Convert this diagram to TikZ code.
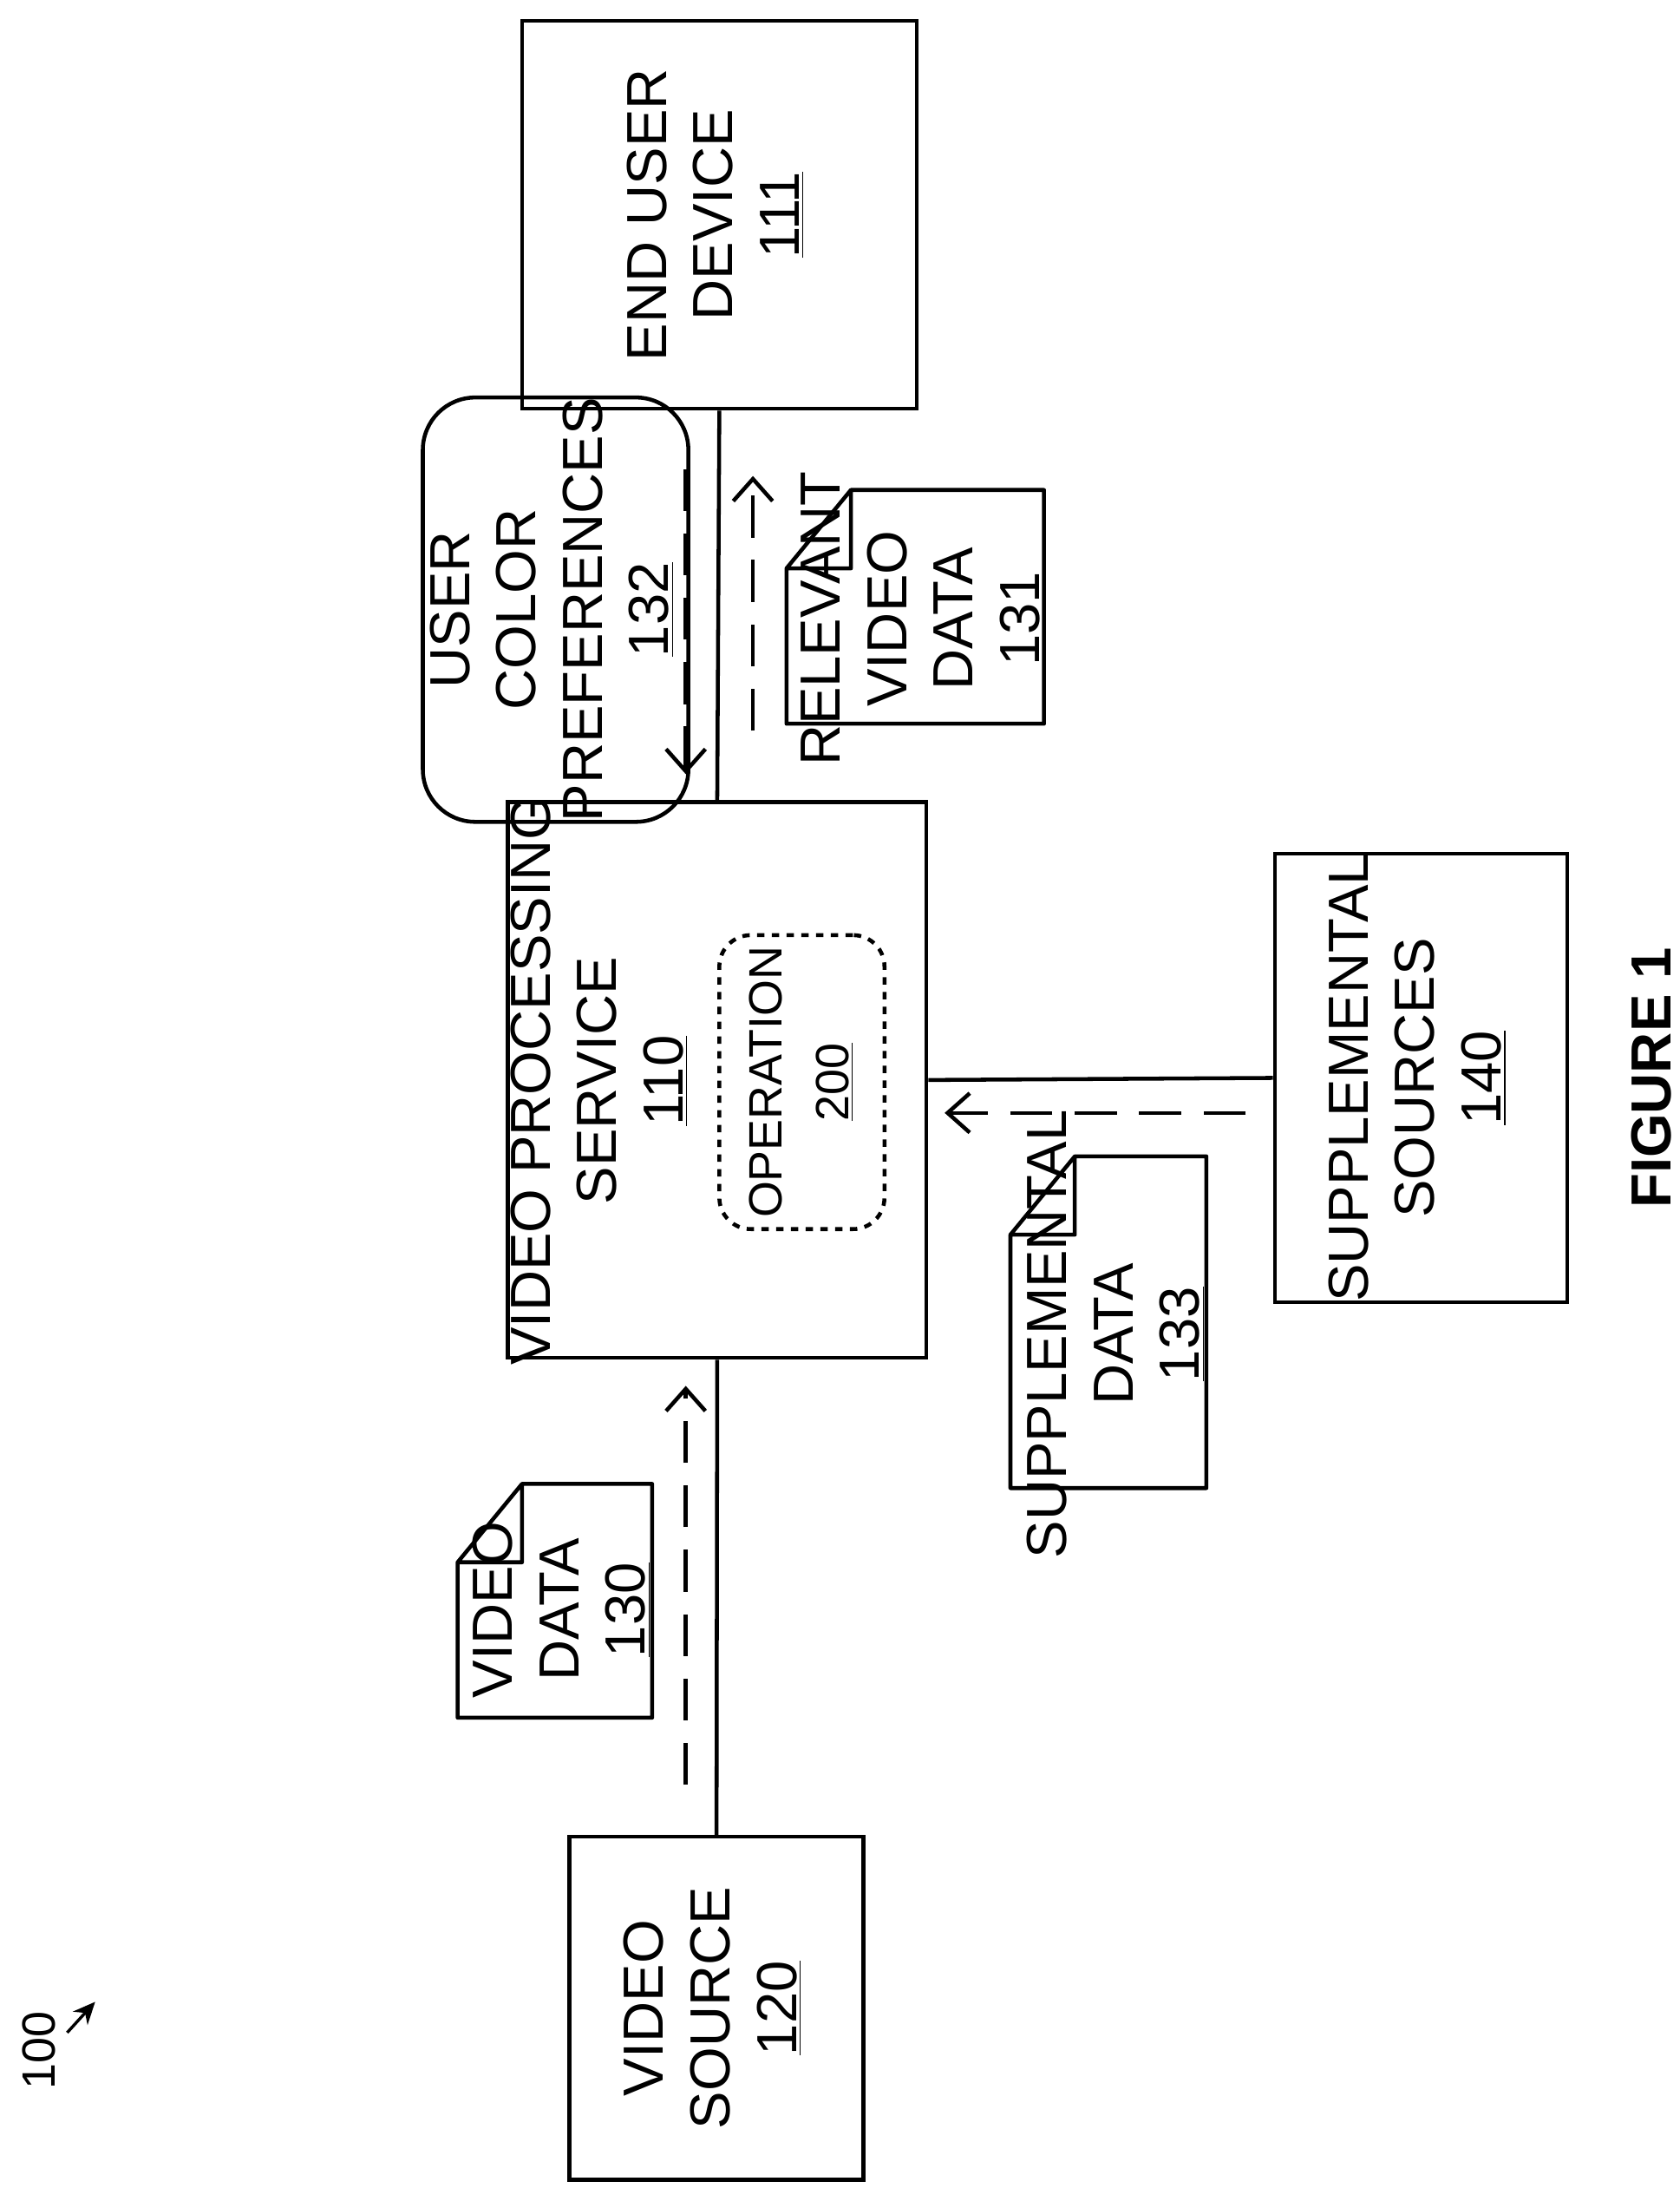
\documentclass[tikz,border=0pt]{standalone}
\usepackage{fontspec}
\setmainfont{Liberation Sans}
\usetikzlibrary{arrows.meta}
\newcommand{\rtext}[1]{\rotatebox{90}{\begin{tabular}{@{}c@{}}#1\end{tabular}}}
\begin{document}
\begin{tikzpicture}[x=0.02cm,y=-0.02cm,line width=1.6pt,
  every node/.style={font=\fontsize{23}{27}\selectfont},
  box/.style={draw,inner sep=0pt},
  flow/.style={dash pattern=on 0.6cm off 0.32cm,-{Straight Barb[length=9pt,width=16pt,line width=1.6pt]}}]
\useasboundingbox (0,0) rectangle (1200,1563);
% boxes
\node [box,minimum width=282*0.02cm,minimum height=277*0.02cm] (eud) at (514,153.5) {\rtext{END USER\\DEVICE\\\underline{111}}};
\node [box,minimum width=299*0.02cm,minimum height=397*0.02cm] (vps) at (512.5,771.5) {};
\node (vpst) at (431,772) {\rtext{VIDEO PROCESSING\\SERVICE\\\underline{110}}};
\node [box,dash pattern=on 3pt off 3pt,rounded corners=0.45cm,minimum width=118*0.02cm,minimum height=210*0.02cm] (op) at (573,773) {\rtext{\fontsize{19}{24}\selectfont OPERATION\\\fontsize{19}{24}\selectfont\underline{200}}};
\node [box,minimum width=209*0.02cm,minimum height=280*0.02cm] (sup) at (1015.5,770) {\rtext{SUPPLEMENTAL\\SOURCES\\\underline{140}}};
\node [box,minimum width=210*0.02cm,minimum height=245*0.02cm] (src) at (512,1434.5) {\rtext{VIDEO\\SOURCE\\\underline{120}}};
\node [box,rounded corners=0.75cm,minimum width=140*0.02cm,minimum height=205*0.02cm] (pref) at (397,435.5) {\rtext{USER\\COLOR\\PREFERENCES\\\underline{132}}};
% documents
\draw [line join=round] (562,406) -- (608,350) -- (746,350) -- (746,517) -- (562,517) -- cycle (562,406) -- (608,406) -- (608,350);
\node (rvd) at (662,442) {\rtext{RELEVANT\\VIDEO\\DATA\\\underline{131}}};
\draw [line join=round] (722,882) -- (768,826) -- (862,826) -- (862,1063) -- (722,1063) -- cycle (722,882) -- (768,882) -- (768,826);
\node (sd) at (800,953) {\rtext{SUPPLEMENTAL\\DATA\\\underline{133}}};
\draw [line join=round] (327,1116) -- (373,1060) -- (466,1060) -- (466,1227) -- (327,1227) -- cycle (327,1116) -- (373,1116) -- (373,1060);
\node (vd) at (404,1150) {\rtext{VIDEO\\DATA\\\underline{130}}};
% connectors
\draw (eud.south) -- (vps.north);
\draw (vps.south) -- (src.north);
\draw (sup.west) -- (vps.east);
\coordinate (a1) at (490,335); \coordinate (a2) at (490,553);
\coordinate (b1) at (538,522); \coordinate (b2) at (538,340);
\coordinate (c1) at (890,795); \coordinate (c2) at (675,795);
\coordinate (d1) at (490,1275); \coordinate (d2) at (490,990);
\draw [flow] (a1) -- (a2);
\draw [flow] (b1) -- (b2);
\draw [flow] (c1) -- (c2);
\draw [flow] (d1) -- (d2);
% labels
\node (fig) at (1180,770) {\rotatebox{90}{\bfseries FIGURE 1}};
\node (num) at (28,1465) {\rotatebox{90}{\fontsize{19}{22}\selectfont 100}};
\coordinate (n1) at (48,1452); \coordinate (n2) at (68,1430);
\draw [line width=1.2pt,-{Stealth[length=9pt,width=8pt]}] (n1) -- (n2);
\end{tikzpicture}
\end{document}
